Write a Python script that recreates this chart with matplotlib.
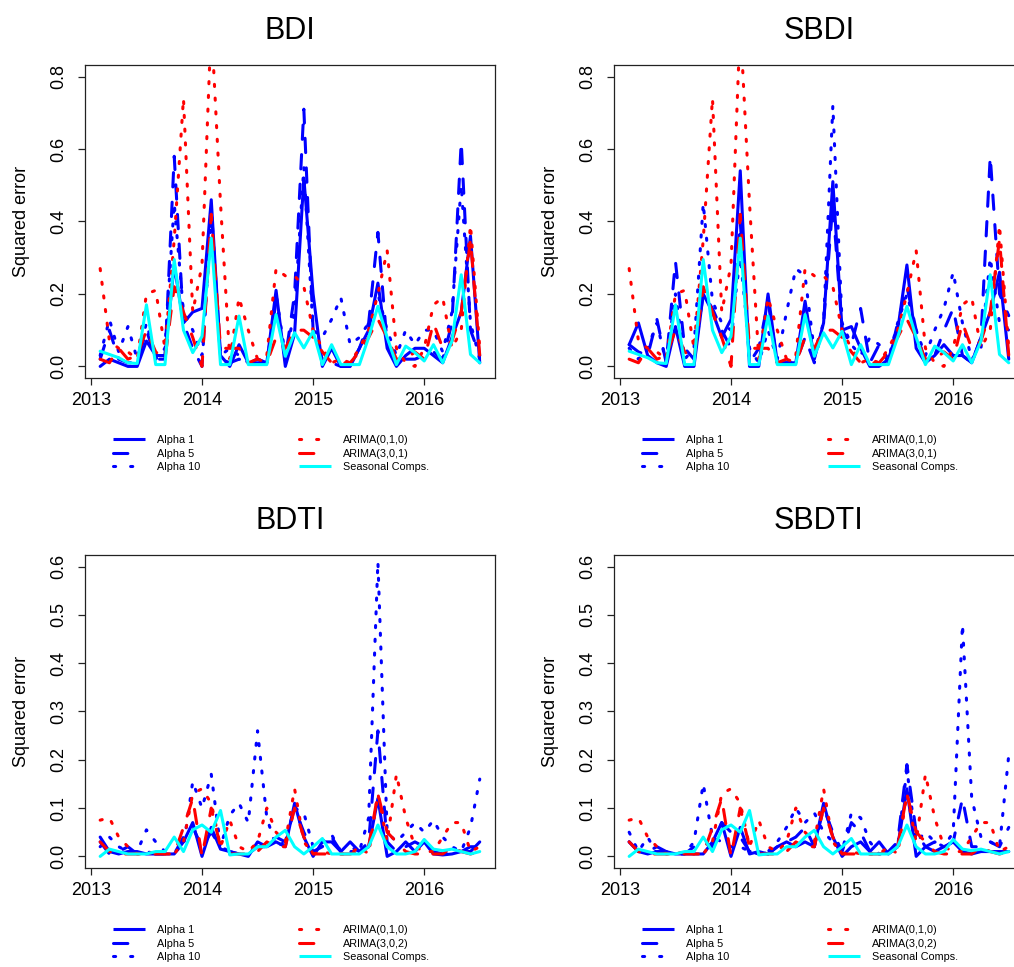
import matplotlib
matplotlib.use("Agg")
import matplotlib.pyplot as plt
from matplotlib.lines import Line2D
import numpy as np

plt.rcParams['font.family'] = ['Liberation Sans', 'DejaVu Sans']

# monthly, Feb 2013 .. Jul 2016
months = 2013 + np.arange(1, 43) / 12.0

# ---- BDI ----
bdi_alpha1 = [0.00, 0.02, 0.01, 0.00, 0.00, 0.07, 0.03, 0.03, 0.28, 0.12, 0.15, 0.16, 0.46, 0.03,
              0.00, 0.06, 0.01, 0.01, 0.01, 0.21, 0.00, 0.09, 0.52, 0.20, 0.00, 0.05, 0.00, 0.00,
              0.05, 0.10, 0.23, 0.05, 0.00, 0.03, 0.05, 0.05, 0.03, 0.01, 0.08, 0.15, 0.36, 0.01]
bdi_alpha5 = [0.02, 0.10, 0.02, 0.01, 0.01, 0.10, 0.02, 0.02, 0.58, 0.12, 0.05, 0.00, 0.44, 0.02,
              0.01, 0.02, 0.01, 0.02, 0.01, 0.18, 0.02, 0.20, 0.71, 0.10, 0.02, 0.01, 0.00, 0.00,
              0.05, 0.12, 0.37, 0.06, 0.01, 0.02, 0.02, 0.03, 0.04, 0.02, 0.12, 0.62, 0.10, 0.03]
bdi_alpha10 = [0.03, 0.13, 0.04, 0.11, 0.02, 0.12, 0.02, 0.05, 0.45, 0.15, 0.10, 0.03, 0.40, 0.03,
               0.05, 0.03, 0.01, 0.02, 0.01, 0.20, 0.03, 0.15, 0.55, 0.10, 0.08, 0.13, 0.19, 0.06,
               0.08, 0.12, 0.20, 0.10, 0.03, 0.10, 0.06, 0.10, 0.10, 0.04, 0.15, 0.50, 0.12, 0.02]
bdi_arima010 = [0.27, 0.07, 0.05, 0.04, 0.02, 0.20, 0.21, 0.05, 0.35, 0.74, 0.15, 0.28, 0.95, 0.45,
                0.02, 0.19, 0.10, 0.02, 0.03, 0.27, 0.25, 0.25, 0.22, 0.10, 0.05, 0.01, 0.02, 0.01,
                0.05, 0.10, 0.20, 0.32, 0.05, 0.01, 0.00, 0.05, 0.17, 0.19, 0.05, 0.10, 0.39, 0.05]
bdi_arima301 = [0.02, 0.01, 0.05, 0.02, 0.03, 0.10, 0.04, 0.02, 0.22, 0.15, 0.08, 0.00, 0.42, 0.05,
                0.05, 0.05, 0.01, 0.02, 0.01, 0.08, 0.05, 0.10, 0.10, 0.08, 0.04, 0.01, 0.01, 0.01,
                0.04, 0.08, 0.13, 0.08, 0.02, 0.02, 0.04, 0.02, 0.12, 0.05, 0.07, 0.15, 0.35, 0.03]
bdi_seasonal = [0.042, 0.033, 0.024, 0.010, 0.008, 0.170, 0.005, 0.005, 0.295, 0.100, 0.038, 0.083, 0.354, 0.005,
                0.005, 0.139, 0.005, 0.005, 0.005, 0.143, 0.028, 0.093, 0.051, 0.097, 0.005, 0.060, 0.005, 0.005,
                0.005, 0.080, 0.166, 0.080, 0.005, 0.056, 0.038, 0.015, 0.060, 0.010, 0.070, 0.253, 0.033, 0.010]

# ---- SBDI ----
sbdi_alpha1 = [0.06, 0.12, 0.03, 0.01, 0.00, 0.11, 0.00, 0.00, 0.20, 0.15, 0.08, 0.13, 0.54, 0.00,
               0.00, 0.20, 0.01, 0.01, 0.01, 0.18, 0.02, 0.12, 0.51, 0.10, 0.11, 0.05, 0.00, 0.00,
               0.02, 0.10, 0.28, 0.05, 0.01, 0.03, 0.06, 0.03, 0.03, 0.01, 0.08, 0.15, 0.26, 0.02]
sbdi_alpha5 = [0.06, 0.04, 0.03, 0.13, 0.01, 0.29, 0.05, 0.02, 0.20, 0.16, 0.10, 0.05, 0.40, 0.01,
               0.05, 0.18, 0.01, 0.01, 0.01, 0.08, 0.01, 0.12, 0.45, 0.10, 0.06, 0.16, 0.01, 0.06,
               0.01, 0.12, 0.22, 0.10, 0.01, 0.03, 0.10, 0.16, 0.03, 0.01, 0.08, 0.58, 0.20, 0.14]
sbdi_alpha10 = [0.05, 0.02, 0.05, 0.12, 0.01, 0.20, 0.02, 0.05, 0.45, 0.18, 0.12, 0.10, 0.30, 0.05,
                0.01, 0.10, 0.02, 0.15, 0.27, 0.25, 0.04, 0.12, 0.72, 0.12, 0.06, 0.03, 0.08, 0.06,
                0.02, 0.12, 0.20, 0.10, 0.03, 0.10, 0.16, 0.26, 0.12, 0.02, 0.05, 0.30, 0.12, 0.10]

# ---- BDTI ----
bdti_alpha1 = [0.040, 0.010, 0.005, 0.010, 0.010, 0.005, 0.005, 0.005, 0.005, 0.030, 0.070, 0.000, 0.060, 0.015,
               0.010, 0.005, 0.000, 0.030, 0.020, 0.030, 0.020, 0.110, 0.040, 0.000, 0.030, 0.030, 0.010, 0.030,
               0.010, 0.020, 0.120, 0.000, 0.010, 0.030, 0.010, 0.030, 0.005, 0.003, 0.005, 0.010, 0.010, 0.030]
bdti_alpha5 = [0.030, 0.005, 0.010, 0.020, 0.005, 0.010, 0.005, 0.005, 0.005, 0.040, 0.060, 0.020, 0.050, 0.020,
               0.010, 0.005, 0.005, 0.020, 0.020, 0.040, 0.030, 0.100, 0.050, 0.010, 0.020, 0.040, 0.010, 0.020,
               0.010, 0.030, 0.260, 0.030, 0.010, 0.020, 0.030, 0.020, 0.010, 0.005, 0.010, 0.010, 0.020, 0.020]
bdti_alpha10 = [0.020, 0.040, 0.020, 0.010, 0.010, 0.055, 0.030, 0.010, 0.010, 0.020, 0.155, 0.100, 0.170, 0.020,
                0.085, 0.110, 0.070, 0.260, 0.080, 0.020, 0.030, 0.100, 0.090, 0.020, 0.030, 0.045, 0.010, 0.010,
                0.010, 0.080, 0.610, 0.050, 0.030, 0.050, 0.070, 0.050, 0.075, 0.040, 0.020, 0.010, 0.060, 0.160]
bdti_arima010 = [0.075, 0.080, 0.040, 0.020, 0.005, 0.005, 0.010, 0.005, 0.005, 0.030, 0.130, 0.140, 0.110, 0.020,
                 0.075, 0.020, 0.010, 0.030, 0.100, 0.050, 0.030, 0.140, 0.030, 0.005, 0.010, 0.005, 0.005, 0.005,
                 0.020, 0.005, 0.130, 0.030, 0.170, 0.080, 0.020, 0.010, 0.010, 0.040, 0.070, 0.070, 0.010, 0.020]
bdti_arima302 = [0.030, 0.010, 0.005, 0.005, 0.005, 0.005, 0.005, 0.005, 0.005, 0.060, 0.120, 0.000, 0.100, 0.020,
                 0.005, 0.005, 0.005, 0.010, 0.030, 0.020, 0.020, 0.100, 0.040, 0.005, 0.005, 0.005, 0.005, 0.005,
                 0.010, 0.020, 0.130, 0.050, 0.030, 0.010, 0.005, 0.005, 0.005, 0.005, 0.020, 0.010, 0.005, 0.010]
bdti_seasonal = [0.000, 0.015, 0.010, 0.005, 0.005, 0.005, 0.010, 0.010, 0.040, 0.010, 0.055, 0.065, 0.050, 0.095,
                 0.003, 0.005, 0.005, 0.020, 0.020, 0.040, 0.054, 0.020, 0.005, 0.020, 0.037, 0.005, 0.005, 0.005,
                 0.005, 0.020, 0.065, 0.020, 0.005, 0.005, 0.010, 0.035, 0.015, 0.012, 0.015, 0.010, 0.005, 0.010]

# ---- SBDTI ----
sbdti_alpha1 = [0.030, 0.010, 0.005, 0.010, 0.010, 0.005, 0.005, 0.005, 0.005, 0.030, 0.070, 0.000, 0.060, 0.005,
                0.010, 0.005, 0.020, 0.030, 0.020, 0.030, 0.020, 0.110, 0.040, 0.000, 0.020, 0.030, 0.010, 0.030,
                0.005, 0.020, 0.140, 0.000, 0.020, 0.010, 0.020, 0.030, 0.010, 0.005, 0.010, 0.010, 0.010, 0.010]
sbdti_alpha5 = [0.030, 0.010, 0.010, 0.020, 0.010, 0.005, 0.005, 0.020, 0.030, 0.020, 0.070, 0.050, 0.040, 0.010,
                0.010, 0.005, 0.020, 0.030, 0.040, 0.060, 0.020, 0.100, 0.050, 0.010, 0.070, 0.050, 0.010, 0.005,
                0.010, 0.030, 0.190, 0.050, 0.020, 0.030, 0.020, 0.030, 0.120, 0.020, 0.020, 0.030, 0.020, 0.060]
sbdti_alpha10 = [0.050, 0.010, 0.040, 0.005, 0.005, 0.010, 0.005, 0.030, 0.150, 0.040, 0.030, 0.020, 0.020, 0.010,
                 0.005, 0.010, 0.030, 0.060, 0.100, 0.070, 0.090, 0.050, 0.030, 0.010, 0.090, 0.080, 0.030, 0.005,
                 0.005, 0.020, 0.180, 0.030, 0.050, 0.030, 0.020, 0.050, 0.480, 0.120, 0.040, 0.030, 0.020, 0.210]

xtick_years = [2013, 2014, 2015, 2016]

panels = [
    # title, axes rect, series, arima label, y max, y step
    ("BDI", [0.0838, 0.6091, 0.4043, 0.3237],
     [bdi_alpha1, bdi_alpha5, bdi_alpha10, bdi_arima010, bdi_arima301, bdi_seasonal],
     "ARIMA(3,0,1)", 0.8, 0.2),
    ("SBDI", [0.6055, 0.6091, 0.4043, 0.3237],
     [sbdi_alpha1, sbdi_alpha5, sbdi_alpha10, bdi_arima010, bdi_arima301, bdi_seasonal],
     "ARIMA(3,0,1)", 0.8, 0.2),
    ("BDTI", [0.0838, 0.1024, 0.4043, 0.3237],
     [bdti_alpha1, bdti_alpha5, bdti_alpha10, bdti_arima010, bdti_arima302, bdti_seasonal],
     "ARIMA(3,0,2)", 0.6, 0.1),
    ("SBDTI", [0.6055, 0.1024, 0.4043, 0.3237],
     [sbdti_alpha1, sbdti_alpha5, sbdti_alpha10, bdti_arima010, bdti_arima302, bdti_seasonal],
     "ARIMA(3,0,2)", 0.6, 0.1),
]

LW = 2.2
# line patterns in the plot, and slightly sparser ones for the legend keys
dashed = (0, (4.7, 5.0))
dotted = (0, (0.7, 3.8))
key_dashed = (0, (4.7, 8.0))
key_dotted = (0, (0.7, 4.9))
colors = ["#0000FF", "#0000FF", "#0000FF", "#FF0000", "#FF0000", "#00FFFF"]
plot_ls = ["-", dashed, dotted, dotted, dashed, "-"]
key_ls = ["-", key_dashed, key_dotted, key_dotted, key_dashed, "-"]

fig = plt.figure(figsize=(10.14, 9.67), dpi=100)

for title, rect, series, arima_lab, ymax, ystep in panels:
    ax = fig.add_axes(rect)
    labels = ["Alpha 1", "Alpha 5", "Alpha 10", "ARIMA(0,1,0)", arima_lab, "Seasonal Comps."]
    for vals, col, ls in zip(series, colors, plot_ls):
        ax.plot(months, vals, color=col, linestyle=ls, linewidth=LW,
                dash_capstyle='round', solid_capstyle='round')

    span = months[-1] - months[0]
    ax.set_xlim(months[0] - 0.04 * span, months[-1] + 0.04 * span)
    ax.set_ylim(-0.04 * ymax, ymax * 1.04)

    ax.set_xticks(xtick_years)
    ax.set_xticklabels([str(y) for y in xtick_years])
    yt = np.arange(0, ymax + 1e-9, ystep)
    ax.set_yticks(yt)
    ax.set_yticklabels(["%.1f" % v for v in yt], rotation=90, va='center')

    ax.tick_params(axis='both', direction='out', length=5, width=0.9,
                   labelsize=13, colors='#222222', labelcolor='black')
    ax.tick_params(axis='y', pad=8)
    ax.tick_params(axis='x', pad=5)
    for sp in ax.spines.values():
        sp.set_linewidth(0.9)
        sp.set_color('#222222')

    ax.set_ylabel("Squared error", fontsize=13, va='center')
    ax.yaxis.set_label_coords(-0.155, 0.5)
    ax.set_title(title, fontsize=22, pad=19)

    keys = [Line2D([], [], color=col, linestyle=ls, linewidth=LW,
                   dash_capstyle='round', solid_capstyle='butt')
            for col, ls in zip(colors, key_ls)]
    ax.legend(keys, labels, ncol=2, loc='upper left', bbox_to_anchor=(0.0683, -0.182),
              frameon=False, fontsize=7.8, handlelength=2.96, handletextpad=1.1,
              columnspacing=9.1, labelspacing=0.33, borderpad=0, borderaxespad=0)

fig.savefig("out.png", dpi=100)
